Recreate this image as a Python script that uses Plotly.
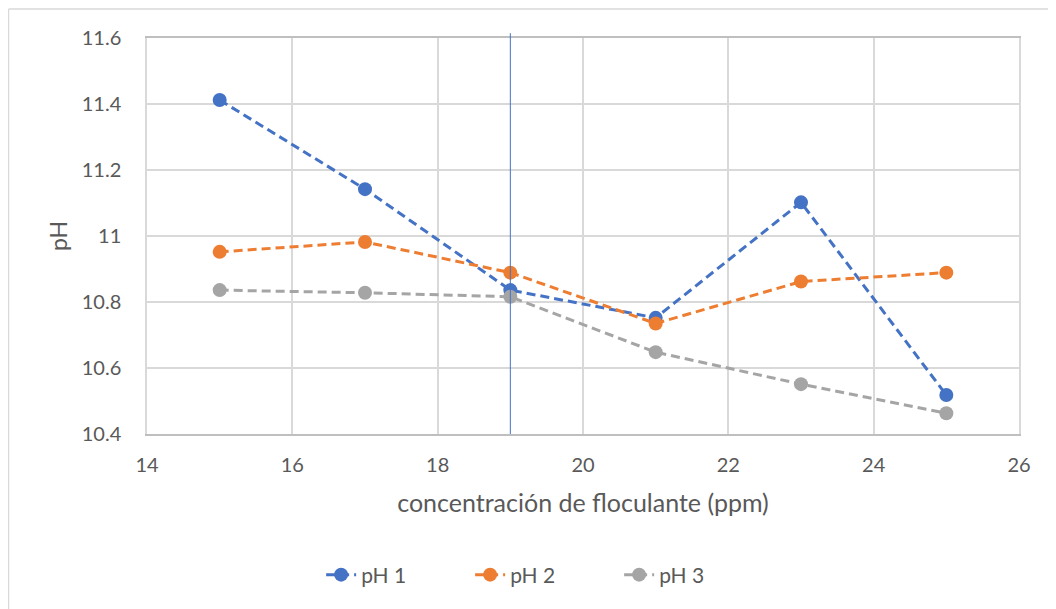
import plotly.graph_objects as go

x_vals = [15, 17, 19, 21, 23, 25]
ph1 = [11.412, 11.142, 10.836, 10.752, 11.102, 10.518]
ph2 = [10.952, 10.982, 10.889, 10.735, 10.862, 10.889]
ph3 = [10.836, 10.828, 10.816, 10.648, 10.551, 10.463]
series_names = ["pH 1", "pH 2", "pH 3"]
colors = ["#4472C4", "#ED7D31", "#A5A5A5"]
vline_x = 19

fig = go.Figure()
for name, ys, c in zip(series_names, [ph1, ph2, ph3], colors):
    fig.add_trace(go.Scatter(
        x=x_vals, y=ys, name=name, mode="lines+markers",
        line=dict(color=c, width=3, dash="9px,5px"),
        marker=dict(color=c, size=14),
    ))

fig.add_shape(type="line", xref="x", yref="paper", x0=vline_x, x1=vline_x,
              y0=0, y1=1.012, line=dict(color="#4472C4", width=1))
# outer chart border (left and top visible)
W, H = 1048, 601
L, R, T, B = 139, 37, 30, 175
pw, ph = W - L - R, H - T - B
bx = (0.5 - L) / pw
by = 1 + (T - 1) / ph
fig.add_shape(type="line", xref="paper", yref="paper", x0=bx, x1=bx,
              y0=-B / ph - 0.05, y1=by, line=dict(color="#D9D9D9", width=1.5))
fig.add_shape(type="line", xref="paper", yref="paper", x0=bx, x1=1 + R / pw + 0.05,
              y0=by, y1=by, line=dict(color="#D9D9D9", width=1.5))

font = "Lato, 'Open Sans', sans-serif"
fig.update_layout(
    width=W, height=H,
    margin=dict(l=L, r=R, t=T, b=B),
    paper_bgcolor="white", plot_bgcolor="white",
    font=dict(family=font, color="#595959", size=20),
    xaxis=dict(range=[14, 26], dtick=2, showgrid=True, gridcolor="#D9D9D9", gridwidth=1.5,
               showline=True, linecolor="#BFBFBF", linewidth=1.5, mirror=True,
               zeroline=False, ticklabelstandoff=12,
               title=dict(text="concentración de floculante (ppm)", font=dict(size=25), standoff=20)),
    yaxis=dict(range=[10.4, 11.6], dtick=0.2, showgrid=True, gridcolor="#D9D9D9", gridwidth=1.5,
               showline=True, linecolor="#D9D9D9", linewidth=1.5, mirror=True,
               zeroline=False, ticklabelstandoff=20, tickformat="~g",
               title=dict(text="pH", font=dict(size=23), standoff=8)),
    legend=dict(orientation="h", x=0.456, xanchor="center", y=-(567 - 426) / 396, yanchor="middle",
                font=dict(size=21), entrywidth=104, entrywidthmode="pixels", tracegroupgap=0),
    showlegend=True,
)

fig.write_html("out.html")
